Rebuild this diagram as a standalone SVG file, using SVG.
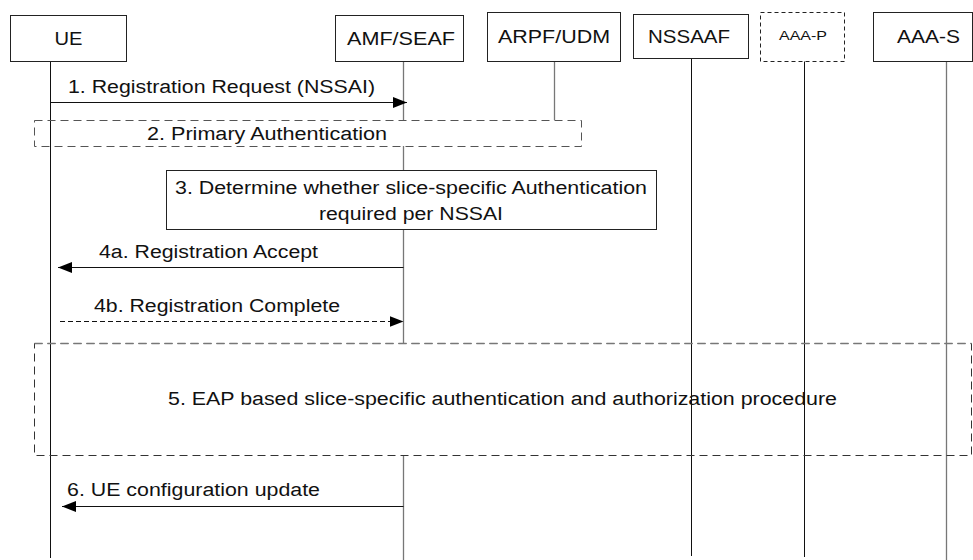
<svg xmlns="http://www.w3.org/2000/svg" width="973" height="560" viewBox="0 0 973 560">
<style>
text{font-family:"Liberation Sans",Arial,sans-serif;font-size:18px;fill:#111}
.t{text-anchor:middle}
.box{fill:#fff;stroke:#222;stroke-width:1}
.dbox{fill:#fff;stroke:#222;stroke-width:1;stroke-dasharray:4 3}
.ll{stroke:#111;stroke-width:1;fill:none}
.llg{stroke:#777;stroke-width:1.3;fill:none}
.msg{stroke:#111;stroke-width:1;fill:none}
.frame{fill:none;stroke:#333;stroke-width:1;stroke-dasharray:8 5}
.frameg{fill:none;stroke:#777;stroke-width:1.3;stroke-dasharray:8 5}
</style>
<defs>
<marker id="ah" viewBox="0 0 14 11" refX="14" refY="5.5" markerWidth="14" markerHeight="11" orient="auto" markerUnits="userSpaceOnUse">
<path d="M0,0 L14,5.5 L0,11 Z" fill="#000"/>
</marker>
</defs>

<g id="lifelines">
<line class="ll" x1="50.5" y1="61" x2="50.5" y2="558"/>
<path class="llg" d="M403.5,61 V120 M403.5,146 V170 M403.5,229 V343 M403.5,455 V560"/>
<line class="llg" x1="554.5" y1="61" x2="554.5" y2="120"/>
<line class="ll" x1="691.5" y1="58" x2="691.5" y2="556"/>
<line class="ll" x1="804.5" y1="61" x2="804.5" y2="557"/>
<line class="llg" x1="946.5" y1="61" x2="946.5" y2="560"/>
</g>

<g id="UE"><rect class="box" x="10.5" y="15.5" width="116" height="46"/><text class="t" x="68.5" y="45" textLength="28" lengthAdjust="spacingAndGlyphs">UE</text></g>
<g id="AMF"><rect class="box" x="335.5" y="15.5" width="128" height="46"/><text class="t" x="401" y="45" textLength="108" lengthAdjust="spacingAndGlyphs">AMF/SEAF</text></g>
<g id="ARPF"><rect class="box" x="487.5" y="12.5" width="133" height="49"/><text class="t" x="554" y="43" textLength="112" lengthAdjust="spacingAndGlyphs">ARPF/UDM</text></g>
<g id="NSSAAF"><rect class="box" x="633.5" y="14.5" width="115" height="44"/><text class="t" x="689" y="43" textLength="82" lengthAdjust="spacingAndGlyphs">NSSAAF</text></g>
<g id="AAAP"><rect class="dbox" x="760.5" y="12.5" width="84" height="49"/><text class="t" x="803" y="40" style="font-size:13px" textLength="48" lengthAdjust="spacingAndGlyphs">AAA-P</text></g>
<g id="AAAS"><rect class="box" x="873.5" y="12.5" width="99" height="49"/><text class="t" x="928.5" y="43" textLength="63" lengthAdjust="spacingAndGlyphs">AAA-S</text></g>

<g id="step2">
<rect class="frame" x="34.5" y="120.5" width="547" height="26" style="stroke:#555"/>
<text x="147" y="140" textLength="240" lengthAdjust="spacingAndGlyphs">2. Primary Authentication</text>
</g>

<g id="step3">
<rect class="box" x="166.5" y="170.5" width="490" height="59"/>
<text class="t" x="411" y="194" textLength="472" lengthAdjust="spacingAndGlyphs">3. Determine whether slice-specific Authentication</text>
<text class="t" x="411" y="220" textLength="184" lengthAdjust="spacingAndGlyphs">required per NSSAI</text>
</g>

<g id="step5">
<rect class="frame" x="34.5" y="343.5" width="937" height="112"/>
<line class="frameg" x1="34.5" y1="343.5" x2="971.5" y2="343.5"/>
<text x="168" y="405" textLength="669" lengthAdjust="spacingAndGlyphs">5. EAP based slice-specific authentication and authorization procedure</text>
</g>

<g id="connectors">
<line class="msg" x1="50.5" y1="102.5" x2="407" y2="102.5" marker-end="url(#ah)"/>
<text x="68" y="93" textLength="307" lengthAdjust="spacingAndGlyphs">1. Registration Request (NSSAI)</text>
<line class="msg" x1="403.5" y1="267.5" x2="58" y2="267.5" marker-end="url(#ah)"/>
<text x="99" y="258" textLength="219" lengthAdjust="spacingAndGlyphs">4a. Registration Accept</text>
<line class="msg" x1="60" y1="321.5" x2="403.5" y2="321.5" stroke-dasharray="5 3" marker-end="url(#ah)"/>
<text x="94" y="312" textLength="246" lengthAdjust="spacingAndGlyphs">4b. Registration Complete</text>
<line class="msg" x1="403.5" y1="506.5" x2="62" y2="506.5" marker-end="url(#ah)"/>
<text x="67" y="496" textLength="253" lengthAdjust="spacingAndGlyphs">6. UE configuration update</text>
</g>
</svg>
